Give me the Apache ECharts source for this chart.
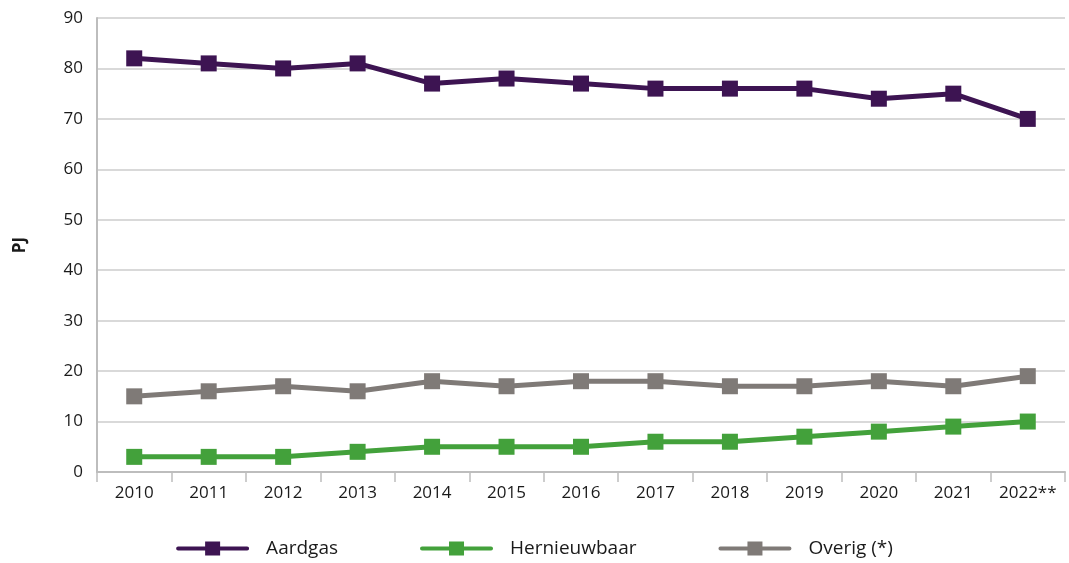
<!DOCTYPE html>
<html>
<head>
<meta charset="utf-8">
<script src="https://cdn.jsdelivr.net/npm/echarts@6/dist/echarts.min.js"></script>
<style>
html, body { margin: 0; padding: 0; background: #fff; }
#main { width: 1069px; height: 563px; }
</style>
</head>
<body>
<div id="main"></div>
<script>
var years = ['2010', '2011', '2012', '2013', '2014', '2015', '2016', '2017', '2018', '2019', '2020', '2021', '2022**'];
var aardgas = [82, 81, 80, 81, 77, 78, 77, 76, 76, 76, 74, 75, 70];
var hernieuwbaar = [3, 3, 3, 4, 5, 5, 5, 6, 6, 7, 8, 9, 10];
var overig = [15, 16, 17, 16, 18, 17, 18, 18, 17, 17, 18, 17, 19];

var myChart = echarts.init(document.getElementById('main'));
var font = 'Open Sans';
// legend icon: thick line with a square in the middle
var legendIcon = 'path://M2,5 L71,5 Q73,5 73,7 Q73,9 71,9 L2,9 Q0,9 0,7 Q0,5 2,5 Z M29,0 L44,0 L44,14 L29,14 Z';

function line(name, data, color) {
	return {
		name: name,
		type: 'line',
		data: data,
		symbol: 'rect',
		symbolSize: 16,
		itemStyle: { color: color },
		lineStyle: { color: color, width: 5 },
		animation: false
	};
}

var option = {
	grid: { left: 97, right: 4, top: 18, bottom: 91 },
	legend: {
		bottom: 0,
		left: 'center',
		icon: legendIcon,
		itemWidth: 73,
		itemHeight: 14,
		itemGap: 82,
		textStyle: { fontFamily: font, fontSize: 19, color: '#1a1a1a', padding: [0, 0, 0, 12] },
		data: ['Aardgas', 'Hernieuwbaar', 'Overig (*)']
	},
	xAxis: {
		type: 'category',
		data: years,
		boundaryGap: true,
		axisLine: { lineStyle: { color: '#bdbdbd', width: 2 } },
		axisTick: { show: true, interval: 0, length: 10, lineStyle: { color: '#bdbdbd', width: 1.5 } },
		axisLabel: { interval: 0, hideOverlap: false, fontFamily: font, fontSize: 17, color: '#1a1a1a', margin: 13 }
	},
	yAxis: {
		type: 'value',
		min: 0,
		max: 90,
		interval: 10,
		name: 'PJ',
		nameLocation: 'middle',
		nameGap: 68,
		nameRotate: 90,
		nameTextStyle: { fontFamily: font, fontSize: 17, fontWeight: 'bold', color: '#1a1a1a' },
		axisLine: { show: true, lineStyle: { color: '#bdbdbd', width: 2 } },
		axisTick: { show: false },
		splitLine: { lineStyle: { color: '#cccccc', width: 1.5 } },
		axisLabel: { fontFamily: font, fontSize: 17, color: '#1a1a1a', margin: 14 }
	},
	series: [
		line('Aardgas', aardgas, '#3d1452'),
		line('Hernieuwbaar', hernieuwbaar, '#43a13b'),
		line('Overig (*)', overig, '#7f7a77')
	]
};

myChart.setOption(option);
</script>
</body>
</html>
